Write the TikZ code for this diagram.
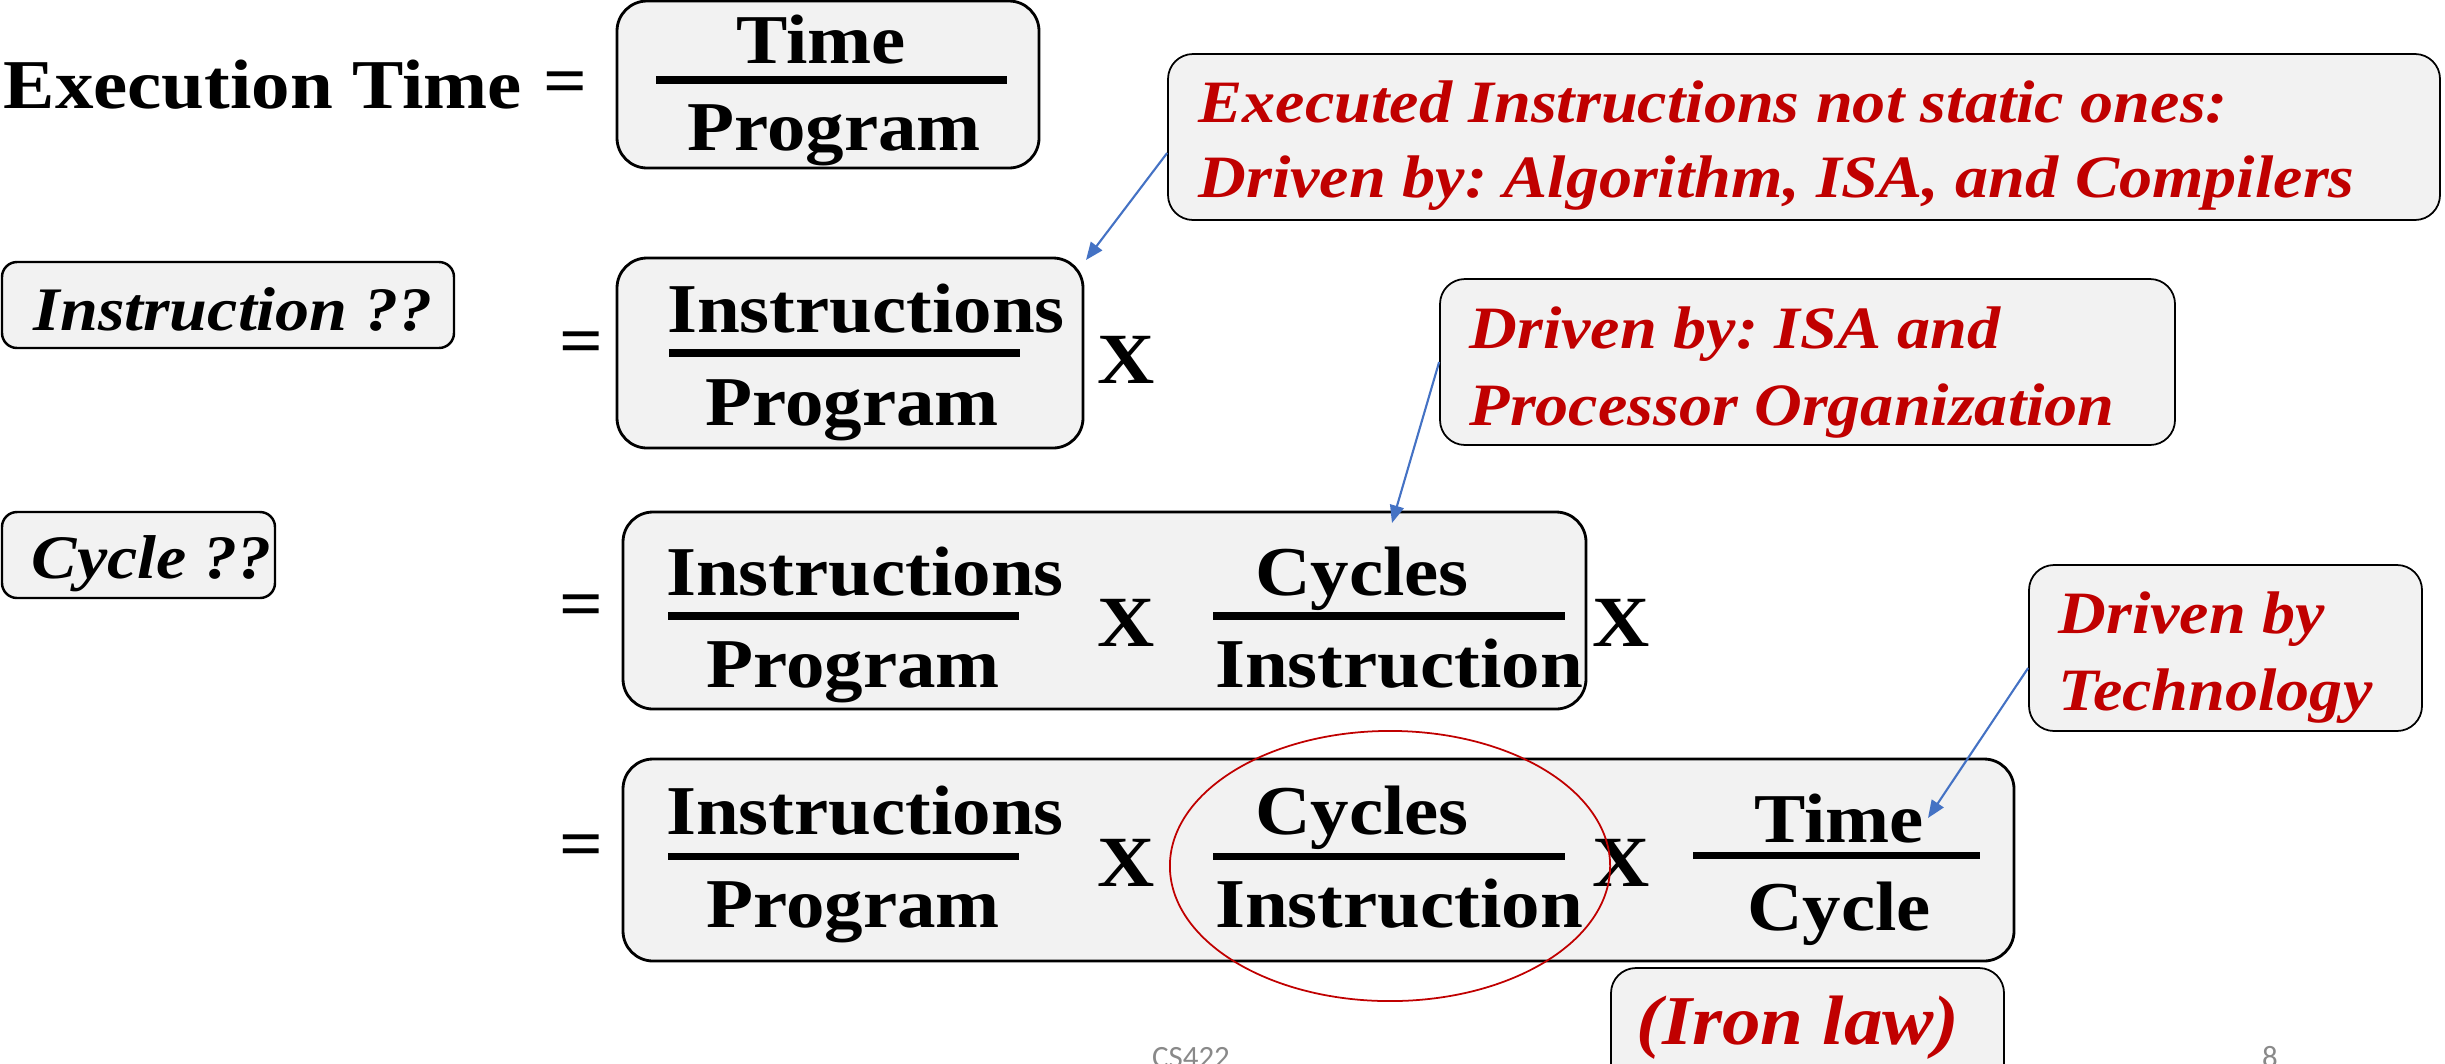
\documentclass[tikz,border=0pt]{standalone}
\usepackage{fontspec}
\setmainfont{Liberation Serif}[FakeStretch=1.1]
\newfontfamily\footfont{Carlito}
\usetikzlibrary{arrows.meta, fit}
\definecolor{myRed}{RGB}{192,0,0}
\definecolor{myBlue}{RGB}{68,114,196}
\definecolor{boxGray}{RGB}{242,242,242}
\definecolor{footGray}{RGB}{137,137,137}
\frenchspacing

\begin{document}
\begin{tikzpicture}[x=0.01cm, y=-0.01cm,
  word/.style={font=\fontsize{19.9}{24}\selectfont\bfseries, anchor=base, inner sep=0},
  times/.style={font=\fontsize{20.5}{24}\selectfont\bfseries, anchor=base, inner sep=0},
  ask/.style={font=\fontsize{17.6}{21}\selectfont\bfseries\itshape, anchor=base west, inner sep=0},
  calltext/.style={font=\fontsize{17.1}{21}\selectfont\bfseries\itshape, text=myRed, anchor=base west, inner sep=0},
  bar/.style={line width=2pt},
  fbox/.style={draw, line width=0.8pt, fill=boxGray, rounded corners=0.3cm, inner sep=0},
  qbox/.style={draw, line width=0.7pt, fill=boxGray, rounded corners=0.15cm, inner sep=0},
  callbox/.style={draw, line width=0.5pt, fill=boxGray, rounded corners=0.25cm, inner sep=0},
  pointer/.style={draw=myBlue, line width=0.6pt, -{Triangle[length=5pt, width=4pt]}},
  foot/.style={font=\footfont\fontsize{8.8}{10}\selectfont, text=footGray, anchor=base, inner sep=0},
]
  \clip (0,0) rectangle (2445,1063);

  % boxes
  \node[fbox, fit={(617,1) (1039,168)}] (b1) {};
  \node[fbox, fit={(617,258) (1083,448)}] (b2) {};
  \node[fbox, fit={(623,512) (1586,709)}] (b3) {};
  \node[fbox, fit={(623,759) (2014,961)}] (b4) {};
  \node[qbox, fit={(2,262) (454,348)}] (q1) {};
  \node[qbox, fit={(2,512) (275,598)}] (q2) {};
  \node[callbox, fit={(1168,54) (2440,220)}] (c1) {};
  \node[callbox, fit={(1440,279) (2175,445)}] (c2) {};
  \node[callbox, fit={(2029,565) (2422,731)}] (c3) {};
  \node[callbox, fit={(1611,968) (2004,1110)}] (c4) {};

  % left side
  \node[word, anchor=base west] (exec) at (3,108) {Execution Time};
  \node[word] (eq0) at (565,104) {=};
  \node[ask] (q1t) at (33,330) {Instruction ??};
  \node[ask] (q2t) at (31,578) {Cycle ??};

  % Time / Program
  \node[word] (r1n) at (821,63) {Time};
  \node[word] (r1d) at (834,150) {Program};
  \draw[bar] (656,80) -- (1007,80);

  % row 2
  \node[word] (eq1) at (581,364) {=};
  \node[word] (r2n) at (866,332) {Instructions};
  \node[word] (r2d) at (852,425) {Program};
  \draw[bar] (669,353) -- (1020,353);
  \node[times] (x21) at (1126,383) {X};

  % row 3
  \node[word] (eq2) at (581,627) {=};
  \node[word] (r3an) at (865,595) {Instructions};
  \node[word] (r3ad) at (853,687) {Program};
  \draw[bar] (668,616) -- (1019,616);
  \node[times] (x31) at (1126,646) {X};
  \node[word] (r3bn) at (1362,595) {Cycles};
  \node[word] (r3bd) at (1399,687) {Instruction};
  \draw[bar] (1213,616) -- (1565,616);
  \node[times] (x32) at (1621,646) {X};

  % row 4
  \node[word] (eq3) at (581,867) {=};
  \node[word] (r4an) at (865,834) {Instructions};
  \node[word] (r4ad) at (853,927) {Program};
  \draw[bar] (668,856) -- (1019,856);
  \node[times] (x41) at (1126,886) {X};
  \node[word] (r4bn) at (1362,834) {Cycles};
  \node[word] (r4bd) at (1399,927) {Instruction};
  \draw[bar] (1213,856) -- (1565,856);
  \node[times] (x42) at (1621,886) {X};
  \node[word] (r4cn) at (1839,842) {Time};
  \node[word] (r4cd) at (1839,930) {Cycle};
  \draw[bar] (1693,855) -- (1980,855);

  % CPI circled
  \draw[myRed, line width=0.5pt] (1390,866) ellipse [x radius=2.2cm, y radius=1.35cm];

  % callouts
  \node[calltext] (c1a) at (1198,122) {Executed Instructions not static ones:};
  \node[calltext] (c1b) at (1198,197) {Driven by: Algorithm, ISA, and Compilers};
  \node[calltext] (c2a) at (1469,348) {Driven by: ISA and};
  \node[calltext] (c2b) at (1469,425) {Processor Organization};
  \node[calltext] (c3a) at (2058,633) {Driven by};
  \node[calltext] (c3b) at (2058,710) {Technology};
  \node[calltext, font=\fontsize{19.9}{24}\selectfont\bfseries\itshape] (law) at (1636,1044) {(Iron law)};

  \coordinate (tip1) at (1086,260);
  \coordinate (tip2) at (1392,523);
  \coordinate (tip3) at (1928,818);
  \draw[pointer] ([yshift=-0.16cm]c1.west) -- (tip1);
  \draw[pointer] (c2.west) -- (tip2);
  \draw[pointer] ([yshift=-0.2cm]c3.west) -- (tip3);

  % footer
  \node[foot] (cs) at (1191,1067) {CS422};
  \node[foot] (pg) at (2270,1067) {8};
\end{tikzpicture}
\end{document}
